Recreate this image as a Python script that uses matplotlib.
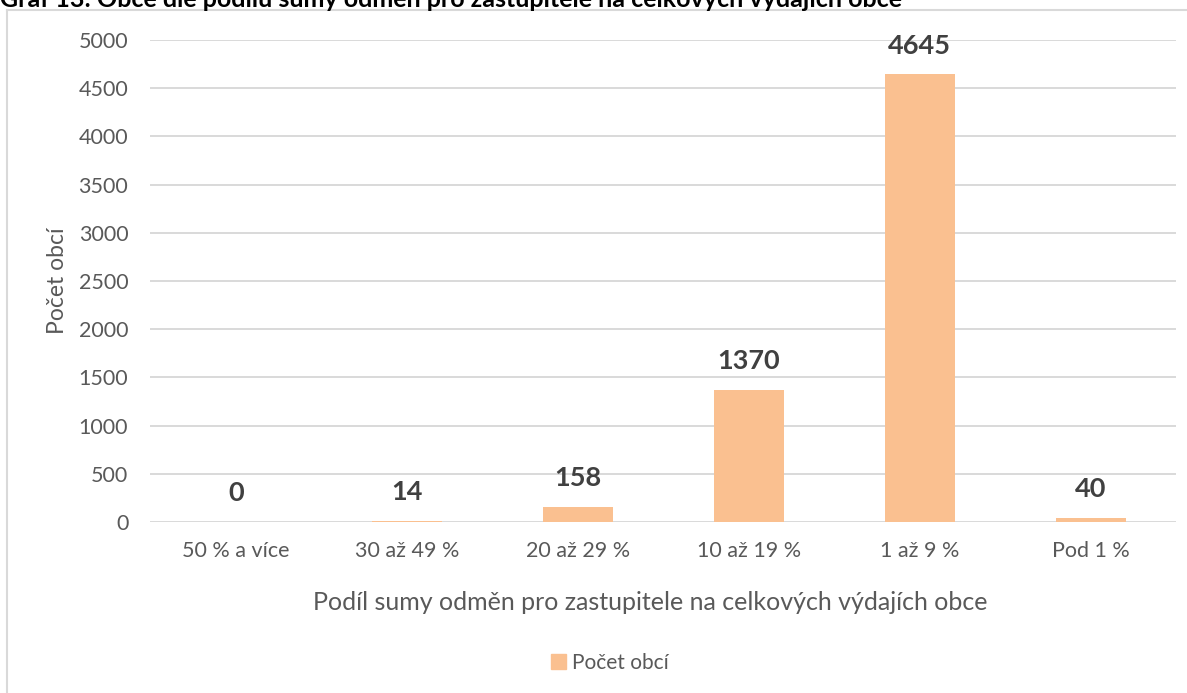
import matplotlib.pyplot as plt
from matplotlib.lines import Line2D
from matplotlib.patches import Patch

plt.rcParams['font.family'] = ['Lato', 'DejaVu Sans']

categories = ['50 % a více', '30 až 49 %', '20 až 29 %', '10 až 19 %', '1 až 9 %', 'Pod 1 %']
counts = [0, 14, 158, 1370, 4645, 40]
yticks = [0, 500, 1000, 1500, 2000, 2500, 3000, 3500, 4000, 4500, 5000]

title = 'Graf 13: Obce dle podílu sumy odměn pro zastupitele na celkových výdajích obce'
xlabel = 'Podíl sumy odměn pro zastupitele na celkových výdajích obce'
ylabel = 'Počet obcí'

bar_color = '#FAC090'
grid_color = '#D9D9D9'
text_color = '#595959'

W, H = 1187, 693
fig = plt.figure(figsize=(W / 100, H / 100), dpi=100)

# plot area in pixels: x 150.5..1176, y 40..522
ax = fig.add_axes([150.5 / W, 1 - 522 / H, (1176 - 150.5) / W, (522 - 40) / H])

x = range(len(categories))
ax.bar(x, counts, width=0.41, color=bar_color, zorder=2)
ax.set_xlim(-0.5, len(categories) - 0.5)
ax.set_ylim(0, 5000)
ax.set_yticks(yticks)
ax.set_xticks(list(x))
ax.set_xticklabels(categories)

ax.grid(axis='y', color=grid_color, lw=1.4, zorder=0)
for s in ax.spines.values():
    s.set_visible(False)
ax.tick_params(axis='both', length=0, labelsize=15.5, colors=text_color)
ax.tick_params(axis='y', pad=16)
ax.tick_params(axis='x', pad=14)

for i, v in enumerate(counts):
    ax.annotate(str(v), (i, v), xytext=(0, 12), textcoords='offset points',
                ha='center', va='bottom', fontsize=19.5, fontweight='bold',
                color='#404040')

fig.text(650 / W, 1 - 602 / H, xlabel, ha='center', va='center',
         fontsize=18, color=text_color)
fig.text(58 / W, 1 - 281 / H, ylabel, ha='center', va='center',
         rotation=90, fontsize=16.5, color=text_color)

fig.legend(handles=[Patch(color=bar_color, label='Počet obcí')],
           loc='center', bbox_to_anchor=(610 / W, 1 - 663 / H),
           frameon=False, fontsize=15, handlelength=0.7, handleheight=0.7,
           handletextpad=0.3, labelcolor=text_color)

# chart frame (left and top edges visible)
fig.add_artist(Line2D([7 / W, 7 / W], [0, 1 - 10 / H], color=grid_color, lw=1.5))
fig.add_artist(Line2D([7 / W, 1], [1 - 10 / H, 1 - 10 / H], color=grid_color, lw=1.5))

# title, cut off by the top edge as in the source image
fig.text(0, 1 - 7 / H, title, ha='left', va='baseline', fontsize=18,
         fontweight='bold', color='black')

fig.savefig('out.png', dpi=100)
